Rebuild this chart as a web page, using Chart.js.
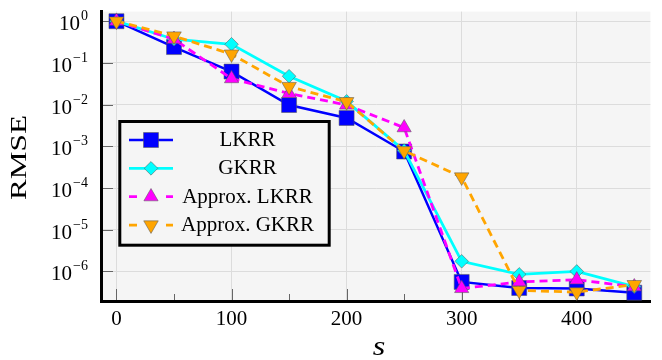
<!DOCTYPE html>
<html>
<head>
<meta charset="utf-8">
<script src="https://cdn.jsdelivr.net/npm/chart.js@4.4.0/dist/chart.umd.min.js"></script>
<style>
  html, body { margin: 0; padding: 0; background: #fff; }
  canvas { display: block; }
</style>
</head>
<body>
<canvas id="rmseChart" width="662" height="360"></canvas>
<script>
// s values on the x axis
const sValues = [0, 50, 100, 150, 200, 250, 300, 350, 400, 450];

// RMSE for each method
const lkrr       = [1.0, 0.24, 0.062, 0.0098, 0.0048, 7.5e-4, 5.6e-7, 4.0e-7, 3.9e-7, 3.1e-7];
const gkrr       = [1.0, 0.37, 0.28, 0.048, 0.012, 7.9e-4, 1.75e-6, 8.5e-7, 1.0e-6, 4.3e-7];
const approxLkrr = [1.0, 0.37, 0.042, 0.0185, 0.0098, 0.0028, 3.9e-7, 5.6e-7, 6.3e-7, 4.3e-7];
const approxGkrr = [1.0, 0.44, 0.162, 0.027, 0.0117, 7.8e-4, 1.83e-4, 3.5e-7, 3.2e-7, 4.8e-7];

// ticks
const xTicks = [0, 50, 100, 150, 200, 250, 300, 350, 400, 450];
const xLabels = [0, 100, 200, 300, 400];
const yDecades = [-6, -5, -4, -3, -2, -1, 0];

const SERIF = '"Liberation Serif", "Times New Roman", serif';
const toPoints = arr => arr.map((v, i) => ({ x: sValues[i], y: v }));

// background, inward ticks, tick labels, axis titles and the boxed legend
const plotDecor = {
    id: "plotDecor",
    beforeDraw(chart) {
        const { ctx, chartArea: a } = chart;
        ctx.save();
        ctx.fillStyle = "#f5f5f5";
        ctx.fillRect(a.left, a.top, a.right - a.left, a.bottom - a.top);
        ctx.restore();
    },
    beforeDatasetsDraw(chart) {
        const { ctx, chartArea: a, scales: { x, y } } = chart;
        ctx.save();
        ctx.strokeStyle = "#666";
        ctx.lineWidth = 1;
        xTicks.forEach(v => {
            const px = Math.round(x.getPixelForValue(v)) + 0.5;
            const len = v % 100 === 0 ? 11 : 6;
            ctx.beginPath();
            ctx.moveTo(px, a.bottom - 1.5);
            ctx.lineTo(px, a.bottom - 1.5 - len);
            ctx.stroke();
        });
        yDecades.forEach(d => {
            const py = Math.round(y.getPixelForValue(Math.pow(10, d))) + 0.5;
            ctx.beginPath();
            ctx.moveTo(a.left + 1.5, py);
            ctx.lineTo(a.left + 11.5, py);
            ctx.stroke();
        });
        ctx.restore();
    },
    afterDraw(chart) {
        const { ctx, scales: { x, y } } = chart;
        ctx.save();
        ctx.fillStyle = "#000";

        // x tick labels
        ctx.font = "21px " + SERIF;
        ctx.textAlign = "center";
        ctx.textBaseline = "alphabetic";
        xLabels.forEach(v => ctx.fillText(String(v), x.getPixelForValue(v), 325));

        // y tick labels 10^k
        ctx.textAlign = "left";
        yDecades.forEach(d => {
            const py = y.getPixelForValue(Math.pow(10, d));
            const exp = d === 0 ? "0" : "\u2212" + Math.abs(d);
            ctx.font = "14px " + SERIF;
            const w2 = ctx.measureText(exp).width;
            ctx.font = "21px " + SERIF;
            const w1 = ctx.measureText("10").width;
            const right = 88;
            ctx.fillText("10", right - w2 - w1 - 1, py + 9);
            ctx.font = "14px " + SERIF;
            ctx.fillText(exp, right - w2, py - 1);
        });

        // axis titles
        ctx.textAlign = "center";
        ctx.save();
        ctx.translate(379, 355);
        ctx.scale(1.15, 1);
        ctx.font = "italic 28px " + SERIF;
        ctx.fillText("s", 0, 0);
        ctx.restore();

        ctx.save();
        ctx.translate(25.5, 157.5);
        ctx.rotate(-Math.PI / 2);
        ctx.font = "24px " + SERIF;
        const tw = ctx.measureText("RMSE").width;
        ctx.scale(85 / tw, 1);
        ctx.fillText("RMSE", 0, 0);
        ctx.restore();

        // legend box
        ctx.fillStyle = "#f5f5f5";
        ctx.fillRect(119.8, 121.5, 209.4, 123.7);
        ctx.strokeStyle = "#000";
        ctx.lineWidth = 3;
        ctx.strokeRect(119.8, 121.5, 209.4, 123.7);

        chart.data.datasets.forEach((ds, i) => {
            const rowY = 140 + i * 28.35;
            ctx.strokeStyle = ds.borderColor;
            ctx.lineWidth = ds.borderWidth;
            ctx.setLineDash([]);
            ctx.beginPath();
            if (ds.borderDash) {
                ctx.moveTo(129, rowY); ctx.lineTo(137, rowY);
                ctx.moveTo(166, rowY); ctx.lineTo(173, rowY);
            } else {
                ctx.moveTo(129, rowY); ctx.lineTo(173, rowY);
            }
            ctx.stroke();
            if (Chart.helpers && Chart.helpers.drawPoint) {
                ctx.fillStyle = ds.pointBackgroundColor;
                ctx.strokeStyle = ds.pointBorderColor;
                ctx.lineWidth = ds.pointBorderWidth;
                Chart.helpers.drawPoint(ctx, {
                    pointStyle: ds.pointStyle,
                    rotation: ds.pointRotation || 0,
                    radius: ds.pointRadius,
                    borderWidth: ds.pointBorderWidth
                }, 151, rowY);
            }
            ctx.fillStyle = "#000";
            ctx.font = "21px " + SERIF;
            ctx.textAlign = "center";
            ctx.fillText(ds.label, 247.5, rowY + 6);
        });
        ctx.restore();
    }
};

const ctx = document.getElementById("rmseChart").getContext("2d");
new Chart(ctx, {
    type: "line",
    data: {
        datasets: [{
            label: "LKRR",
            data: toPoints(lkrr),
            borderColor: "#0000ff",
            borderWidth: 2.5,
            pointStyle: "rect",
            pointRadius: 10.6,
            pointBackgroundColor: "#0000ff",
            pointBorderColor: "rgba(90,90,90,0.55)",
            pointBorderWidth: 1,
            order: 4
        }, {
            label: "GKRR",
            data: toPoints(gkrr),
            borderColor: "#00ffff",
            borderWidth: 2.8,
            pointStyle: "rectRot",
            pointRadius: 6.8,
            pointBackgroundColor: "#00ffff",
            pointBorderColor: "rgba(90,90,90,0.55)",
            pointBorderWidth: 1,
            order: 3
        }, {
            label: "Approx. LKRR",
            data: toPoints(approxLkrr),
            borderColor: "#ff00ff",
            borderWidth: 2.8,
            borderDash: [8, 5],
            pointStyle: "triangle",
            pointRadius: 8.2,
            pointBackgroundColor: "#ff00ff",
            pointBorderColor: "rgba(90,90,90,0.55)",
            pointBorderWidth: 1,
            order: 2
        }, {
            label: "Approx. GKRR",
            data: toPoints(approxGkrr),
            borderColor: "#ffa500",
            borderWidth: 2.8,
            borderDash: [8, 5],
            pointStyle: "triangle",
            pointRotation: 180,
            pointRadius: 8.4,
            pointBackgroundColor: "#ffa500",
            pointBorderColor: "rgba(90,90,90,0.55)",
            pointBorderWidth: 1,
            order: 1
        }]
    },
    options: {
        responsive: false,
        animation: false,
        devicePixelRatio: 1,
        layout: { padding: { top: 7, right: 0, left: 0, bottom: 0 } },
        plugins: { legend: { display: false }, tooltip: { enabled: false } },
        elements: { line: { tension: 0, fill: false } },
        scales: {
            x: {
                type: "linear",
                min: -13,
                max: 464,
                afterBuildTicks: s => { s.ticks = xTicks.map(v => ({ value: v })); },
                afterFit: s => { s.height = 58.5; },
                ticks: { display: false },
                grid: {
                    color: c => (c.tick && c.tick.value % 100 === 0) ? "#dcdcdc" : "rgba(0,0,0,0)",
                    drawTicks: false
                },
                border: { display: true, color: "#000", width: 3 }
            },
            y: {
                type: "logarithmic",
                min: 1.9e-7,
                max: 1.7,
                afterBuildTicks: s => { s.ticks = yDecades.map(d => ({ value: Math.pow(10, d) })); },
                afterFit: s => { s.width = 101.5; },
                ticks: { display: false },
                grid: { color: "#dcdcdc", drawTicks: false },
                border: { display: true, color: "#000", width: 3 }
            }
        }
    },
    plugins: [plotDecor]
});
</script>
</body>
</html>
